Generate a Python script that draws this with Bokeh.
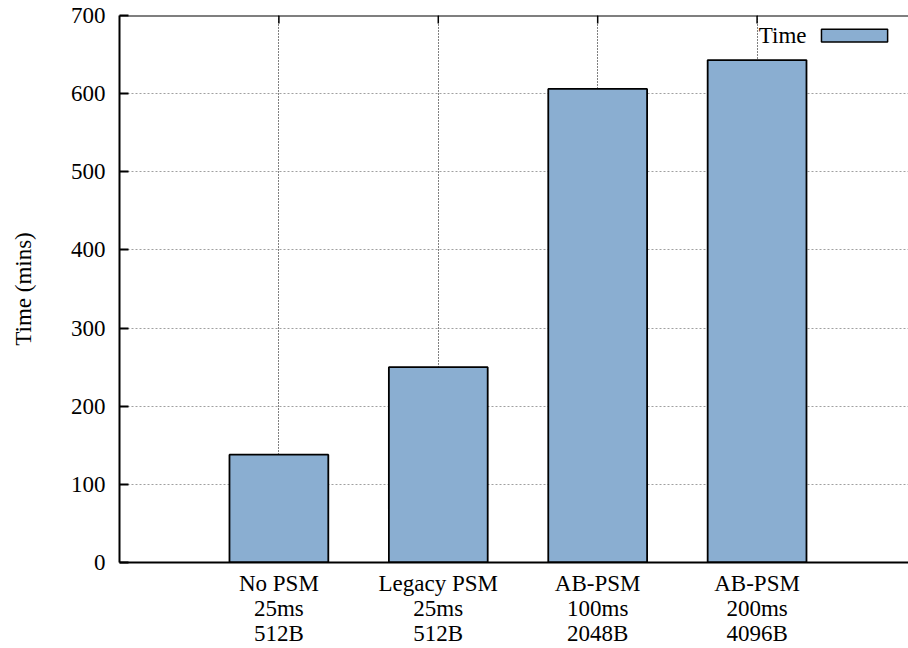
from bokeh.plotting import figure
from bokeh.models import Range1d, FixedTicker, Label, BoxAnnotation, Span
from bokeh.embed import file_html
from bokeh.resources import INLINE

# Run time per power-saving-mode configuration
categories = ["No PSM\n25ms\n512B", "Legacy PSM\n25ms\n512B",
              "AB-PSM\n100ms\n2048B", "AB-PSM\n200ms\n4096B"]
times = [138, 250, 606, 643]
y_ticks = [0, 100, 200, 300, 400, 500, 600, 700]

FONT = "Liberation Serif"
FSIZE = "23px"
BAR_COLOR = "#8aaed1"

positions = list(range(len(categories)))
y_top = y_ticks[-1]

p = figure(width=908, height=648, output_backend="svg", toolbar_location=None,
           x_range=Range1d(-1, 3.95), y_range=Range1d(0, y_top),
           min_border_left=119, min_border_right=0, min_border_top=15,
           min_border_bottom=86, outline_line_color=None)

# grid lines
p.ygrid.ticker = FixedTicker(ticks=y_ticks[1:-1])
p.ygrid.grid_line_color = "#a0a0a0"
p.ygrid.grid_line_dash = "2 2"
p.ygrid.grid_line_width = 1
p.xgrid.ticker = FixedTicker(ticks=positions)
p.xgrid.grid_line_color = "black"
p.xgrid.grid_line_dash = "1 2"
p.xgrid.grid_line_width = 1

p.vbar(x=positions, top=times, width=0.62, bottom=0,
       fill_color=BAR_COLOR, line_color="black", line_width=1.8)

# axes
xax = p.xaxis[0]
xax.ticker = FixedTicker(ticks=positions)
xax.major_label_overrides = {i: c for i, c in zip(positions, categories)}
xax.major_tick_in = 0
xax.major_tick_out = 0
xax.minor_tick_line_color = None
xax.axis_line_width = 2
xax.axis_line_color = "black"
xax.major_label_text_font = FONT
xax.major_label_text_font_size = FSIZE
xax.major_label_text_color = "black"
xax.major_label_standoff = 8
xax.major_label_text_line_height = 1.0

yax = p.yaxis[0]
yax.ticker = FixedTicker(ticks=y_ticks)
yax.major_tick_in = 9
yax.major_tick_out = 0
yax.major_tick_line_width = 2
yax.minor_tick_line_color = None
yax.axis_line_width = 2
yax.axis_line_color = "black"
yax.major_label_text_font = FONT
yax.major_label_text_font_size = FSIZE
yax.major_label_text_color = "black"
yax.major_label_standoff = 14
yax.axis_label = "Time (mins)"
yax.axis_label_text_font = FONT
yax.axis_label_text_font_size = FSIZE
yax.axis_label_text_font_style = "normal"
yax.axis_label_text_color = "black"
yax.axis_label_standoff = 32

# top border with short inward ticks at each category
p.add_layout(Span(location=y_top, dimension="width", line_color="black",
                  line_width=2))
tick_len = y_top * 8 / 547
p.segment(x0=positions, x1=positions, y0=[y_top] * len(positions),
          y1=[y_top - tick_len] * len(positions),
          line_color="black", line_width=1.5)

# key
p.add_layout(Label(x=3.31, y=674, text="Time", text_align="right",
                   text_baseline="middle", text_font=FONT,
                   text_font_size=FSIZE, text_color="black"))
p.add_layout(BoxAnnotation(left=3.404, right=3.819, bottom=666, top=682.5,
                           fill_color=BAR_COLOR, fill_alpha=1.0,
                           line_color="black", line_width=1.5, line_alpha=1.0))

open("out.html", "w").write(file_html(p, INLINE))
